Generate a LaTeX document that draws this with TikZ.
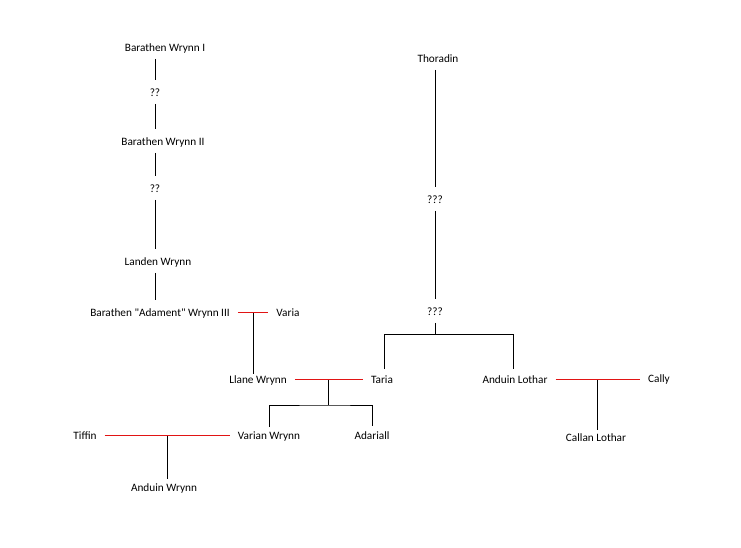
\documentclass[tikz,border=0pt]{standalone}
\usepackage{fontspec}
\setmainfont{Carlito}
\usepackage{xcolor}
\usetikzlibrary{positioning, calc}
\definecolor{rojo}{RGB}{225,20,20}
\tikzset{
  persona/.style={inner xsep=8bp, inner ysep=7bp, text height=9.5bp, text depth=0bp, font=\fontsize{11.3}{13}\selectfont},
  linea/.style={line width=1pt, black},
  pareja/.style={line width=1pt, draw=rojo},
}
\begin{document}
\begin{tikzpicture}[x=1bp, y=-1bp]
        \useasboundingbox (0,0) rectangle (741,548);
        % Rama Wrynn
        \node[persona] (bwI) at (165,47) {Barathen Wrynn I};
        \node[persona] (qA) at (155,92) {??};
        \node[persona] (bwII) at (163,141) {Barathen Wrynn II};
        \node[persona] (qB) at (155,188) {??};
        \node[persona] (landen) at (158,261) {Landen Wrynn};
        \node[persona] (adament) at (160,312) {Barathen \textquotedbl Adament\textquotedbl{} Wrynn III};
        \node[persona] (varia) at (288,312) {Varia};
        % Rama Thoradin
        \node[persona] (thoradin) at (438,58) {Thoradin};
        \node[persona] (qC) at (435,199) {???};
        \node[persona] (qD) at (435,311) {???};
        % Hijos
        \node[persona] (llane) at (258,379) {Llane Wrynn};
        \node[persona] (taria) at (382,379) {Taria};
        \node[persona] (lothar) at (515,379) {Anduin Lothar};
        \node[persona] (cally) at (659,378) {Cally};
        \node[persona] (tiffin) at (85,435) {Tiffin};
        \node[persona] (varian) at (269,435) {Varian Wrynn};
        \node[persona] (adariall) at (372,435) {Adariall};
        \node[persona] (anduin) at (164,487) {Anduin Wrynn};
        \node[persona] (callan) at (596,437) {Callan Lothar};
        % Líneas verticales
        \draw[linea] (bwI.south -| qA) -- (qA.north);
        \draw[linea] (qA.south) -- (qA |- bwII.north);
        \draw[linea] (qB |- bwII.south) -- (qB.north);
        \draw[linea] (qB.south) -- (qB |- landen.north);
        \draw[linea] (qB |- landen.south) -- (qB |- adament.north);
        \draw[linea] (qC |- thoradin.south) -- (qC.north);
        \draw[linea] (qC.south) -- (qD.north);
        \coordinate (b1) at ($(qD.south)+(0,12)$);
        \draw[linea] (qD.south) -- (b1);
        \draw[linea] ([xshift=2bp,yshift=-2bp]taria.north) |- (b1) -| ([xshift=-2bp,yshift=-2bp]lothar.north);
        % Parejas
        \coordinate (m1) at ($(adament.east)!0.5!(varia.west)$);
        \draw[linea] (m1) -- ([yshift=-7bp]m1 |- llane.north);
        \draw[pareja] (adament.east) -- (varia.west);
        \coordinate (m2) at ($(llane.east)!0.5!(taria.west)$);
        \coordinate (b2) at ($(m2)+(0,26)$);
        \draw[linea] (m2) -- (b2);
        \draw[linea] ([yshift=-4bp]varian.north) |- (b2) -| ([yshift=-3bp]adariall.north);
        \draw[pareja] (llane.east) -- (taria.west);
        \coordinate (m3) at ($(lothar.east)!0.5!(cally.west |- lothar.west)$);
        \draw[linea] (m3) -- ([yshift=-5bp]m3 |- callan.north);
        \draw[pareja] (lothar.east) -- (cally.west |- lothar.east);
        \coordinate (m4) at ($(tiffin.east)!0.5!(varian.west)$);
        \draw[linea] (m4) -- ([yshift=-4bp]m4 |- anduin.north);
        \draw[pareja] (tiffin.east) -- (varian.west);
    \end{tikzpicture}
\end{document}
